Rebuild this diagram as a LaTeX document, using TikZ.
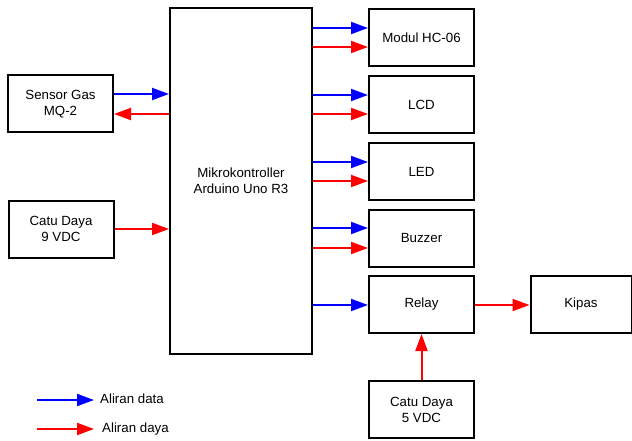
\documentclass[tikz,border=0pt]{standalone}
\usepackage{fontspec}
\setmainfont{Liberation Sans}
\usetikzlibrary{arrows.meta}
\begin{document}
\begin{tikzpicture}[x=1pt,y=-1pt,
  blk/.style={draw=black,line width=2pt,minimum width=105pt,minimum height=57pt,inner sep=0pt,align=center,font=\fontsize{13.3}{16}\selectfont},
  flow/.style={line width=2pt,-{Triangle[length=17pt,width=12pt]}},
  data/.style={flow,draw=blue,fill=blue},
  power/.style={flow,draw=red,fill=red},
  lbl/.style={anchor=west,inner sep=0pt,font=\fontsize{13.3}{16}\selectfont}]
\useasboundingbox (0,0) rectangle (632,441);
\node[blk] (sensor) at (60.5,104) {Sensor Gas\\MQ-2};
\node[blk] (catu9) at (61,229) {Catu Daya\\9 VDC};
\node[draw=black,line width=2pt,minimum width=142pt,minimum height=345pt,inner sep=0pt,align=center,font=\fontsize{13.3}{16}\selectfont] (mcu) at (241,181) {Mikrokontroller\\Arduino Uno R3};
\node[blk] (hc) at (421.5,37.5) {Modul HC-06};
\node[blk] (lcd) at (421.5,104.5) {LCD};
\node[blk] (led) at (421.5,171.5) {LED};
\node[blk] (buz) at (421.5,238) {Buzzer};
\node[blk] (relay) at (421.5,304.5) {Relay};
\node[blk,minimum width=101pt] (kipas) at (581,304.5) {Kipas};
\node[blk] (catu5) at (421.5,409.5) {Catu Daya\\5 VDC};

\draw[data] (sensor.east |- 0,94) -- (mcu.west |- 0,94);
\draw[power] (mcu.west |- 0,114) -- (sensor.east |- 0,114);
\draw[power] (catu9.east |- 0,229) -- (mcu.west |- 0,229);

\draw[data] (mcu.east |- 0,28) -- (hc.west |- 0,28);
\draw[power] (mcu.east |- 0,47) -- (hc.west |- 0,47);
\draw[data] (mcu.east |- 0,95) -- (lcd.west |- 0,95);
\draw[power] (mcu.east |- 0,114) -- (lcd.west |- 0,114);
\draw[data] (mcu.east |- 0,162) -- (led.west |- 0,162);
\draw[power] (mcu.east |- 0,181) -- (led.west |- 0,181);
\draw[data] (mcu.east |- 0,228) -- (buz.west |- 0,228);
\draw[power] (mcu.east |- 0,248) -- (buz.west |- 0,248);
\draw[data] (mcu.east |- 0,305) -- (relay.west |- 0,305);
\draw[power] (relay.east |- 0,305) -- (kipas.west |- 0,305);
\draw[power] (catu5.north) -- (relay.south);

\coordinate (d1) at (37,400);
\coordinate (d2) at (94,400);
\coordinate (p1) at (37,429);
\coordinate (p2) at (94,429);
\draw[data] (d1) -- (d2);
\draw[power] (p1) -- (p2);
\node[lbl] (ldata) at (100,399) {Aliran data};
\node[lbl] (ldaya) at (102,429) {Aliran daya};
\end{tikzpicture}
\end{document}
